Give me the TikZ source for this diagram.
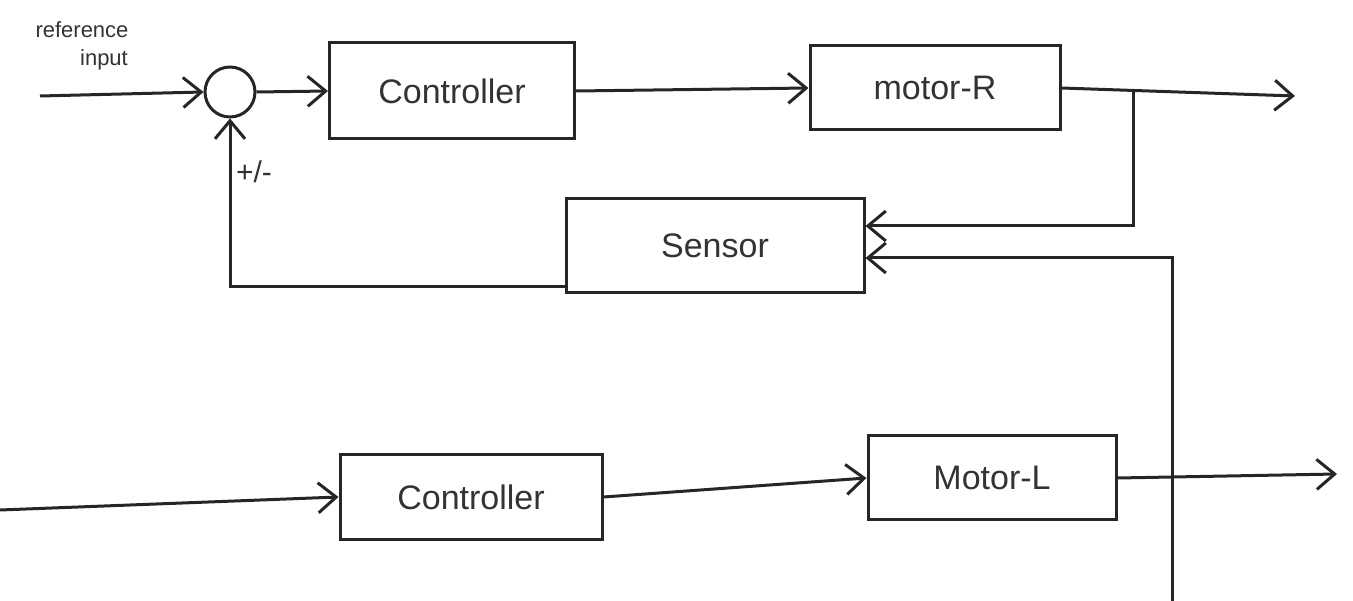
\documentclass[tikz,border=0pt]{standalone}
\usepackage{fontspec}
\setmainfont{Liberation Sans}
\usetikzlibrary{arrows.meta}
\begin{document}
\begin{tikzpicture}[x=1pt,y=-1pt,
  blk/.style={draw=black!85, line width=3pt, minimum width=#1, inner sep=0pt, font=\fontsize{34}{40}\selectfont, text=black!80},
  wire/.style={draw=black!85, line width=3pt},
  lbl/.style={text=black!80, inner sep=1pt},
  arr/.style={wire, -{Straight Barb[length=18pt,width=30pt,line width=3pt]}}]
\useasboundingbox (0,0) rectangle (1353,601);
\node[blk=245pt, minimum height=96pt] (c1) at (452,91) {Controller};
\node[blk=250pt, minimum height=84pt] (mr) at (935,88) {motor-R};
\node[blk=298pt, minimum height=94pt] (se) at (715,246) {Sensor};
\node[blk=262pt, minimum height=84pt] (c2) at (471,497) {Controller};
\node[blk=248pt, minimum height=84pt] (ml) at (992,478) {Motor-L};
\node[draw=black!85, line width=3pt, circle, minimum size=50pt, inner sep=0pt] (sum) at (230,92) {};
\node[lbl, font=\fontsize{22}{24}\selectfont] (ref1) at (82,30) {reference};
\node[lbl, font=\fontsize{22}{24}\selectfont] (ref2) at (104,60) {input};
\node[lbl, font=\fontsize{30}{30}\selectfont] (pm) at (254,172) {+/-};
\coordinate (in) at (40,96);
\coordinate (outR) at (1295,96);
\coordinate (br) at (1133,92);
\coordinate (bot) at (1172,601);
\coordinate (in2) at (0,510);
\coordinate (outL) at (1337,474);
\draw[arr] (in) -- (sum.west);
\draw[arr] (sum.east) -- (c1.west);
\draw[arr] (c1.east) -- (mr.west);
\draw[arr] (mr.east) -- (outR);
\draw[arr] (br) |- ([yshift=20pt]se.east);
\draw[arr] (bot) |- ([yshift=-12pt]se.east);
\draw[arr] ([yshift=-41pt]se.west) -| (sum.south);
\draw[arr] (in2) -- (c2.west);
\draw[arr] (c2.east) -- (ml.west);
\draw[arr] (ml.east) -- (outL);
\end{tikzpicture}
\end{document}
